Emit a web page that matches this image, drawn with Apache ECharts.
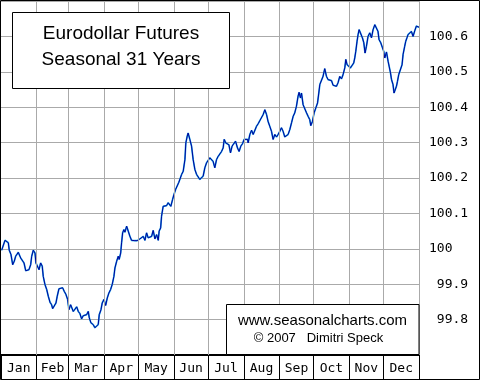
<!DOCTYPE html>
<html>
<head>
<meta charset="utf-8">
<script src="https://cdn.jsdelivr.net/npm/echarts@6/dist/echarts.min.js"></script>
<style>
html,body{margin:0;padding:0;background:#fff;}
#chart{width:480px;height:380px;}
</style>
</head>
<body>
<div id="chart"></div>
<script>
// Day of year (0..365) and seasonal index values
const days = [0.6,3.5,5.0,6.4,7.2,8.7,10.2,11.6,12.8,15.1,17.2,18.6,20.1,21.6,23.3,24.4,25.9,26.8,28.2,29.7,30.5,31.7,33.2,34.6,36.0,36.9,38.4,39.9,41.3,42.8,44.2,45.1,46.5,48.0,49.1,50.6,52.1,53.8,55.2,56.7,58.2,59.3,60.8,62.2,63.1,64.6,
66.1,67.5,68.9,70.4,71.8,73.3,74.8,76.2,77.1,78.5,80.5,82.0,83.5,84.9,85.8,87.3,88.4,89.9,91.4,92.8,94.2,95.7,97.1,98.6,99.5,101.0,102.4,103.2,104.5,105.3,106.2,107.3,108.2,109.7,111.1,112.6,114.0,115.4,116.9,118.9,121.3,122.8,124.2,125.7,127.1,128.5,130.0,131.5,132.9,134.4,135.9,137.3,138.1,139.4,140.2,141.6,143.1,144.6,146.0,147.5,148.3,149.8,151.0,152.4,153.8,155.3,
156.2,157.7,159.1,160.6,161.4,162.6,163.4,164.9,166.4,167.8,169.3,170.8,172.2,173.6,175.1,176.5,178.0,179.5,180.9,182.4,183.9,185.2,186.7,188.2,189.6,191.1,192.6,194.0,194.9,196.3,197.5,199.0,200.4,201.8,203.3,204.8,206.5,207.9,209.4,210.9,212.3,213.8,215.3,215.8,
217.3,218.8,220.2,221.6,223.1,224.5,226.0,227.5,228.9,230.4,231.9,233.2,234.7,236.2,237.6,239.1,240.6,242.0,243.5,244.9,246.3,247.8,249.3,250.7,252.2,253.7,255.1,256.5,258.0,259.4,260.3,261.5,262.4,263.8,265.3,266.8,268.2,269.6,270.5,272.0,273.4,274.9,276.4,277.5,
278.4,279.8,281.2,282.7,284.2,285.6,287.1,288.6,290.0,291.4,292.9,294.3,295.8,297.3,298.7,300.2,301.1,302.2,303.7,305.1,306.6,308.0,308.9,309.8,310.9,311.8,312.7,314.1,315.6,316.8,317.9,319.1,320.5,322.0,323.5,324.9,326.4,327.8,329.2,330.1,331.6,333.1,334.2,335.1,336.6,338.0,338.9,340.1,341.0,342.3,343.2,344.1,345.3,346.2,347.3,348.8,350.2,351.1,352.5,353.4,354.5,355.4,356.9,358.4,359.8,361.3,362.7,364.1,365.0];

const values = [99.996,100.024,100.024,100.017,99.996,99.984,99.955,99.965,99.979,99.990,99.974,99.970,99.960,99.938,99.935,99.941,99.955,99.979,99.996,99.988,99.960,99.955,99.941,99.960,99.951,99.922,99.899,99.885,99.866,99.849,99.842,99.831,99.836,99.847,99.866,99.887,99.883,99.890,99.880,99.871,99.857,99.828,99.842,99.838,99.823,99.819,
99.836,99.823,99.817,99.802,99.811,99.808,99.814,99.823,99.805,99.791,99.786,99.777,99.774,99.786,99.814,99.828,99.847,99.857,99.840,99.861,99.875,99.885,99.899,99.922,99.946,99.965,99.979,99.970,99.988,100.017,100.045,100.054,100.047,100.064,100.050,100.035,100.024,100.028,100.023,100.023,100.028,100.026,100.035,100.024,100.045,100.031,100.026,100.035,100.052,100.028,100.040,100.024,100.050,100.059,100.092,100.120,100.125,100.122,100.130,100.134,100.120,100.139,100.153,100.167,100.172,100.188,
100.191,100.210,100.219,100.252,100.299,100.318,100.327,100.309,100.290,100.252,100.224,100.210,100.205,100.196,100.193,100.205,100.229,100.243,100.238,100.257,100.261,100.247,100.229,100.252,100.261,100.257,100.275,100.285,100.309,100.299,100.304,100.294,100.271,100.290,100.294,100.304,100.285,100.275,100.290,100.297,100.309,100.313,100.309,100.299,
100.323,100.335,100.323,100.327,100.346,100.353,100.362,100.367,100.379,100.393,100.379,100.360,100.346,100.332,100.309,100.323,100.316,100.323,100.332,100.342,100.332,100.316,100.313,100.323,100.337,100.356,100.374,100.384,100.403,100.431,100.442,100.426,100.440,100.407,100.403,100.384,100.374,100.365,100.348,100.360,100.384,100.398,100.412,100.440,
100.464,100.469,100.487,100.509,100.487,100.478,100.473,100.475,100.462,100.464,100.459,100.469,100.487,100.480,100.492,100.511,100.535,100.520,100.520,100.511,100.516,100.525,100.539,100.558,100.586,100.605,100.619,100.619,100.596,100.582,100.553,100.572,100.600,100.610,100.596,100.619,100.633,100.631,100.614,100.591,100.582,100.568,100.558,100.539,100.556,100.530,100.516,100.497,100.478,100.464,100.440,100.436,100.459,100.473,100.492,100.494,100.520,100.549,100.572,100.586,100.596,100.605,100.610,100.614,100.600,100.616,100.629,100.624,100.626];

const monthNames = ['Jan','Feb','Mar','Apr','May','Jun','Jul','Aug','Sep','Oct','Nov','Dec'];
const monthStarts = [0,31,59,90,120,151,181,212,243,273,304,334,365];
const yMin = 99.7, yMax = 100.7, yStep = 0.1;
const titleLines = ['Eurodollar Futures', 'Seasonal 31 Years'];
const creditLines = ['www.seasonalcharts.com', '\u00A9 2007   Dimitri Speck'];

const monthMids = monthNames.map((m, i) => (monthStarts[i] + monthStarts[i + 1]) / 2);
const seriesData = days.map((d, i) => [d, values[i]]);

const chart = echarts.init(document.getElementById('chart'), null, {renderer: 'canvas'});
const mono = 'DejaVu Sans Mono';

chart.setOption({
  animation: false,
  backgroundColor: '#fff',
  grid: {left: 1, right: 61, top: 1, bottom: 25, containLabel: false},
  xAxis: {
    type: 'value', min: 0, max: 365,
    axisLine: {show: true, onZero: false, lineStyle: {color: '#000', width: 2}},
    axisTick: {show: true, customValues: monthStarts, length: 24, inside: false, lineStyle: {color: '#000', width: 1}},
    axisLabel: {
      show: true, customValues: monthMids, margin: 7,
      fontFamily: mono, fontSize: 13, color: '#000',
      formatter: function (v) {
        let idx = 0, best = 1e9;
        monthMids.forEach((m, i) => { if (Math.abs(m - v) < best) { best = Math.abs(m - v); idx = i; } });
        return monthNames[idx];
      }
    },
    splitLine: {show: false}
  },
  yAxis: {
    type: 'value', position: 'right', min: yMin, max: yMax, interval: yStep,
    axisLine: {show: false}, axisTick: {show: false},
    splitLine: {show: true, lineStyle: {color: '#aaaaaa', width: 1}},
    axisLabel: {
      show: true, margin: 10, fontFamily: mono, fontSize: 13, color: '#000', align: 'left',
      formatter: function (v) {
        if (Math.abs(v - yMin) < 1e-6 || Math.abs(v - yMax) < 1e-6) return '';
        if (Math.abs(v - 100) < 1e-6) return '100  ';
        if (v < 100) return ' ' + v.toFixed(1);
        return v.toFixed(1);
      }
    }
  },
  series: [
    {
      type: 'line', data: seriesData, showSymbol: false, silent: true, z: 1,
      lineStyle: {opacity: 0},
      markLine: {
        silent: true, symbol: 'none', label: {show: false}, animation: false,
        lineStyle: {color: '#aaaaaa', width: 1, type: 'solid'},
        data: monthStarts.slice(1).map(d => ({xAxis: d}))
      }
    },
    {
      type: 'line', data: seriesData, showSymbol: false, silent: true, z: 3,
      lineStyle: {color: '#20a8e8', width: 1.7}
    },
    {
      type: 'line', data: seriesData, showSymbol: false, silent: true, z: 4,
      lineStyle: {color: '#00009a', width: 1}
    }
  ],
  graphic: [
    {type: 'rect', z: 100, shape: {x: 0.5, y: 0.5, width: 479, height: 379}, style: {fill: 'none', stroke: '#000', lineWidth: 1}},
    {type: 'rect', z: 100, shape: {x: 12.5, y: 12.5, width: 217, height: 76}, style: {fill: '#fff', stroke: '#000', lineWidth: 1}},
    {type: 'text', z: 101, x: 121, y: 33.7, style: {text: titleLines[0], fontFamily: 'Liberation Sans', fontSize: 19, fill: '#000', align: 'center', verticalAlign: 'middle'}},
    {type: 'text', z: 101, x: 121, y: 60, style: {text: titleLines[1], fontFamily: 'Liberation Sans', fontSize: 19, fill: '#000', align: 'center', verticalAlign: 'middle'}},
    {type: 'rect', z: 100, shape: {x: 226.5, y: 304.5, width: 192.5, height: 50}, style: {fill: '#fff', stroke: '#000', lineWidth: 1}},
    {type: 'text', z: 101, x: 322.5, y: 320.5, style: {text: creditLines[0], fontFamily: 'Liberation Sans', fontSize: 15, fill: '#000', align: 'center', verticalAlign: 'middle'}},
    {type: 'text', z: 101, x: 318.5, y: 338.5, style: {text: creditLines[1], fontFamily: 'Liberation Sans', fontSize: 13, fill: '#000', align: 'center', verticalAlign: 'middle'}}
  ]
});
</script>
</body>
</html>
